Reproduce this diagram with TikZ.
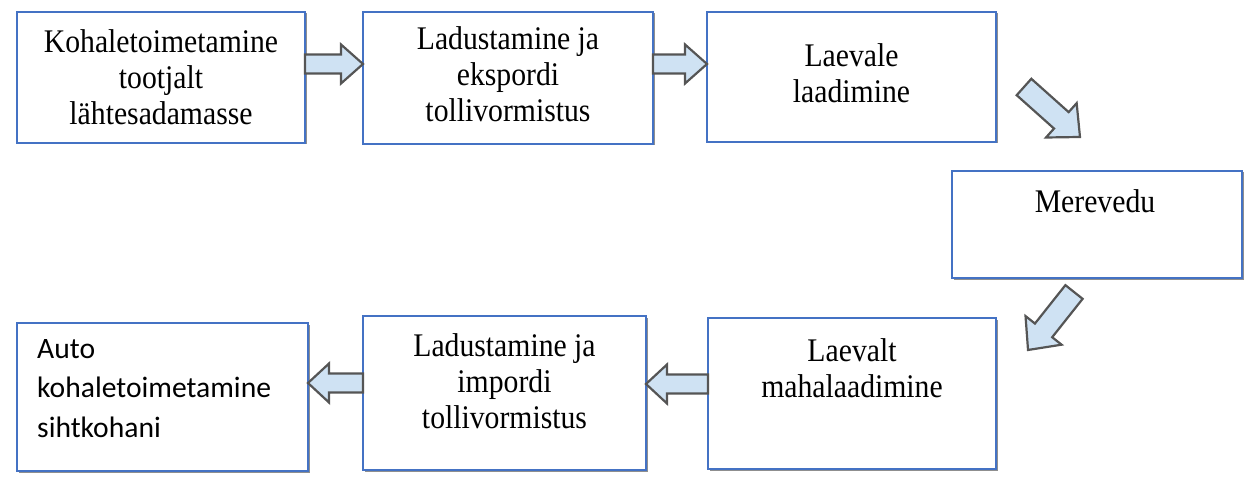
\documentclass[tikz,border=0pt]{standalone}
\usepackage{fontspec}
\setmainfont{Liberation Serif}[FakeStretch=0.9]
\newfontfamily\carlito{Carlito}
\usetikzlibrary{calc,shadows}

\definecolor{boxblue}{HTML}{4472C4}
\definecolor{arrowfill}{HTML}{CFE2F3}
\definecolor{arrowline}{HTML}{555555}

\tikzset{
  stepbox/.style={draw=boxblue, line width=2.4pt, fill=white, rectangle,
    anchor=north west, outer sep=0pt, inner sep=0pt,
    drop shadow={shadow xshift=1.5pt, shadow yshift=-1.5pt, fill=black!55, opacity=0.8}},
  serif/.style={inner sep=0pt, anchor=north, align=center,
    font=\fontsize{33}{36}\selectfont},
  sans/.style={inner sep=0pt, anchor=north west, align=left,
    font=\carlito\fontsize{29.6}{39.5}\selectfont},
  blockarrow/.style={fill=arrowfill, draw=arrowline, line width=2.2pt, line join=miter}
}

% block arrow: #1 tail, #2 tip, #3 shaft half width, #4 head half width, #5 head length
\newcommand\blockarrow[5]{%
  \path[blockarrow] let \p1=(#1), \p2=(#2),
    \n1={atan2(\y2-\y1,\x2-\x1)}, \n2={veclen(\x2-\x1,\y2-\y1)} in
    [shift={(\p1)}, rotate=\n1]
    ({0pt},{-#3*1pt}) -- ({(\n2-#5)*1pt},{-#3*1pt}) -- ({(\n2-#5)*1pt},{-#4*1pt})
    -- ({\n2*1pt},{0pt}) -- ({(\n2-#5)*1pt},{#4*1pt}) -- ({(\n2-#5)*1pt},{#3*1pt})
    -- ({0pt},{#3*1pt}) -- cycle;}

\begin{document}
\begin{tikzpicture}[x=1pt, y=-1pt]
\useasboundingbox (0,0) rectangle (1253,481);

% boxes
\node[stepbox, minimum width=288pt, minimum height=131pt] (b1) at (17,12) {};
\node[stepbox, minimum width=290pt, minimum height=132pt] (b2) at (363,12) {};
\node[stepbox, minimum width=289pt, minimum height=130pt] (b3) at (707,12) {};
\node[stepbox, minimum width=290pt, minimum height=107pt] (b4) at (952,171) {};
\node[stepbox, minimum width=288pt, minimum height=151pt] (b5) at (708,318) {};
\node[stepbox, minimum width=283pt, minimum height=154pt] (b6) at (363,316) {};
\node[stepbox, minimum width=291pt, minimum height=148pt] (b7) at (17,323) {};

% labels
\node[serif] (t1) at (b1.north |- 0,29) {Kohaletoimetamine\\tootjalt\\lähtesadamasse};
\node[serif] (t2) at (b2.north |- 0,26) {Ladustamine ja\\ekspordi\\tollivormistus};
\node[serif] (t3) at (b3.north |- 0,43) {Laevale\\laadimine};
\node[serif] (t4) at ([xshift=-2pt]b4.north |- 0,189) {Merevedu};
\node[serif] (t5) at (b5.north |- 0,338) {Laevalt\\mahalaadimine};
\node[serif] (t6) at (b6.north |- 0,333) {Ladustamine ja\\impordi\\tollivormistus};
\node[sans] (t7) at (37,339) {Auto\\kohaletoimetamine\\sihtkohani};

% arrow ends
\coordinate (a12s) at (b1.east |- 0,64);
\coordinate (a12e) at (b2.west |- 0,64);
\coordinate (a23s) at (b2.east |- 0,64);
\coordinate (a23e) at (b3.west |- 0,64);
\coordinate (a34s) at (1024,87);
\coordinate (a34e) at (1080,137);
\coordinate (a45s) at (1074,292);
\coordinate (a45e) at (1028,350);
\coordinate (a56s) at (b5.west |- 0,384);
\coordinate (a56e) at (b6.east |- 0,384);
\coordinate (a67s) at (b6.west |- 0,383);
\coordinate (a67e) at (b7.east |- 0,383);

% arrows
\blockarrow{a12s}{a12e}{9.5}{19.5}{22}
\blockarrow{a23s}{a23e}{9.5}{19.5}{22}
\blockarrow{a34s}{a34e}{11}{23}{25}
\blockarrow{a45s}{a45e}{11}{23}{25}
\blockarrow{a56s}{a56e}{9.5}{19.5}{21}
\blockarrow{a67s}{a67e}{9.5}{19.5}{21}
\end{tikzpicture}
\end{document}
